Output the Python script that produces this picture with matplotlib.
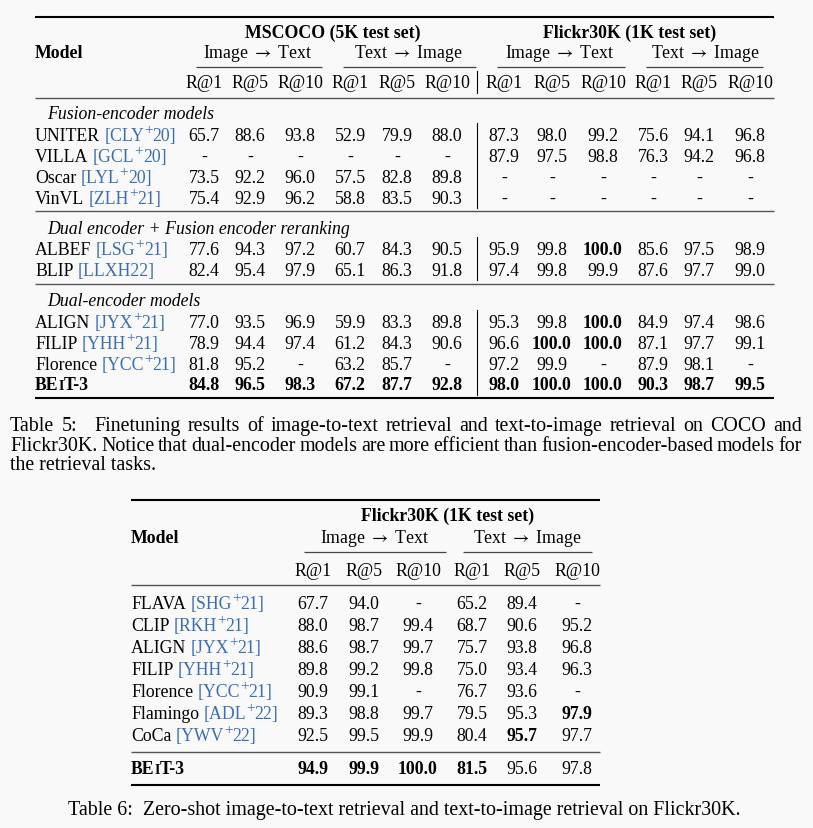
import re
import numpy as np
import matplotlib
matplotlib.use('Agg')
import matplotlib.pyplot as plt

plt.rcParams['font.family'] = ['Liberation Serif', 'DejaVu Serif']
plt.rcParams['mathtext.fontset'] = 'stix'

nan = np.nan

# Table 5: finetuning retrieval
t5_groups = ["Fusion-encoder models", "Dual encoder + Fusion encoder reranking", "Dual-encoder models"]
t5_group_sizes = [4, 2, 4]
t5_models = ["UNITER", "VILLA", "Oscar", "VinVL", "ALBEF", "BLIP", "ALIGN", "FILIP", "Florence", "BEiT-3"]
t5_cites = ["CLY+20", "GCL+20", "LYL+20", "ZLH+21", "LSG+21", "LLXH22", "JYX+21", "YHH+21", "YCC+21", None]
t5_coco = [[65.7, 88.6, 93.8, 52.9, 79.9, 88.0],
           [nan, nan, nan, nan, nan, nan],
           [73.5, 92.2, 96.0, 57.5, 82.8, 89.8],
           [75.4, 92.9, 96.2, 58.8, 83.5, 90.3],
           [77.6, 94.3, 97.2, 60.7, 84.3, 90.5],
           [82.4, 95.4, 97.9, 65.1, 86.3, 91.8],
           [77.0, 93.5, 96.9, 59.9, 83.3, 89.8],
           [78.9, 94.4, 97.4, 61.2, 84.3, 90.6],
           [81.8, 95.2, nan, 63.2, 85.7, nan],
           [84.8, 96.5, 98.3, 67.2, 87.7, 92.8]]
t5_flickr = [[87.3, 98.0, 99.2, 75.6, 94.1, 96.8],
             [87.9, 97.5, 98.8, 76.3, 94.2, 96.8],
             [nan, nan, nan, nan, nan, nan],
             [nan, nan, nan, nan, nan, nan],
             [95.9, 99.8, 100.0, 85.6, 97.5, 98.9],
             [97.4, 99.8, 99.9, 87.6, 97.7, 99.0],
             [95.3, 99.8, 100.0, 84.9, 97.4, 98.6],
             [96.6, 100.0, 100.0, 87.1, 97.7, 99.1],
             [97.2, 99.9, nan, 87.9, 98.1, nan],
             [98.0, 100.0, 100.0, 90.3, 98.7, 99.5]]
t5_bold = [(4, 8), (6, 8), (7, 7), (7, 8)] + [(9, c) for c in range(12)]

# Table 6: zero-shot Flickr30K
t6_models = ["FLAVA", "CLIP", "ALIGN", "FILIP", "Florence", "Flamingo", "CoCa", "BEiT-3"]
t6_cites = ["SHG+21", "RKH+21", "JYX+21", "YHH+21", "YCC+21", "ADL+22", "YWV+22", None]
t6_vals = [[67.7, 94.0, nan, 65.2, 89.4, nan],
           [88.0, 98.7, 99.4, 68.7, 90.6, 95.2],
           [88.6, 98.7, 99.7, 75.7, 93.8, 96.8],
           [89.8, 99.2, 99.8, 75.0, 93.4, 96.3],
           [90.9, 99.1, nan, 76.7, 93.6, nan],
           [89.3, 98.8, 99.7, 79.5, 95.3, 97.9],
           [92.5, 99.5, 99.9, 80.4, 95.7, 97.7],
           [94.9, 99.9, 100.0, 81.5, 95.6, 97.8]]
t6_bold = [(5, 5), (6, 4), (7, 0), (7, 1), (7, 2), (7, 3)]

metrics = ["R@1", "R@5", "R@10"]
caption5 = ["Table 5:   Finetuning results of image-to-text retrieval and text-to-image retrieval on COCO and",
            "Flickr30K. Notice that dual-encoder models are more efficient than fusion-encoder-based models for",
            "the retrieval tasks."]
caption6 = "Table 6:  Zero-shot image-to-text retrieval and text-to-image retrieval on Flickr30K."

FS = 12.8
CAP_FS = 14.4
BLUE = '#3b6db3'
I2T = "Image $\\rightarrow$ Text"
T2I = "Text $\\rightarrow$ Image"

fig = plt.figure(figsize=(8.13, 8.29), dpi=100)
fig.patch.set_facecolor('#f9f9f9')
ax = fig.add_axes([0, 0, 1, 1])
ax.set_xlim(0, 813)
ax.set_ylim(829, 0)
ax.axis('off')
renderer = fig.canvas.get_renderer()


def put(x, y, parts, size=FS):
    # parts: (text, color, weight, scale, rise); draws pieces one after another on a baseline
    for s, color, weight, scale, rise in parts:
        if s == ' ':
            x += 0.25 * size * 100 / 72
            continue
        t = ax.text(x, y - rise, s, fontsize=size * scale, color=color, weight=weight,
                    ha='left', va='baseline')
        x += t.get_window_extent(renderer).width
    return x


def model_label(x, y, name, cite, size=FS):
    if cite is None:
        put(x, y, [("BE", 'black', 'bold', 1, 0), ("I", 'black', 'bold', 0.78, 0),
                   ("T-3", 'black', 'bold', 1, 0)], size)
        return
    parts = [(name, 'black', 'normal', 1, 0), (' ', None, None, 1, 0)]
    if '+' in cite:
        a, b = cite.split('+')
        parts += [("[" + a, BLUE, 'normal', 1, 0), ("+", BLUE, 'normal', 0.85, 6.5),
                  (b + "]", BLUE, 'normal', 1, 0)]
    else:
        parts += [("[" + cite + "]", BLUE, 'normal', 1, 0)]
    put(x, y, parts, size)


def justify(x0, x1, y, line, size):
    toks = [t for t in re.split(r'( +)', line) if t]
    sp = 0.25 * size * 100 / 72
    arts, nat, runs = [], 0.0, 0
    for t in toks:
        if t.startswith(' '):
            nat += sp * len(t)
            runs += 1
            arts.append(len(t))
        else:
            a = ax.text(0, y, t, fontsize=size, ha='left', va='baseline')
            w = a.get_window_extent(renderer).width
            nat += w
            arts.append((a, w))
    extra = (x1 - x0 - nat) / max(runs, 1)
    x = x0
    for a in arts:
        if isinstance(a, int):
            x += sp * a + extra
        else:
            a[0].set_x(x)
            x += a[1]


def rule(x0, x1, y, lw=0.9, color='#333333'):
    ax.plot([x0, x1], [y, y], color=color, lw=lw, solid_capstyle='butt')


def cell(x, y, v, bold):
    s = '-' if np.isnan(v) else '%.1f' % v
    ax.text(x, y, s, fontsize=FS, ha='center', va='baseline', weight='bold' if bold else 'normal')


# ---------------- Table 5 ----------------
L5, R5 = 35, 774
cols5 = [204, 250, 300, 350, 397, 447, 504, 552, 603, 653, 699, 750]
vbar = 477
rule(L5, R5, 17.5, lw=1.5, color='black')
ax.text(333, 38, "MSCOCO (5K test set)", fontsize=FS, weight='bold', ha='center', va='baseline')
ax.text(630, 38, "Flickr30K (1K test set)", fontsize=FS, weight='bold', ha='center', va='baseline')
ax.text(L5, 58, "Model", fontsize=FS, weight='bold', ha='left', va='baseline')
for cx, lab in [(258, I2T), (408, T2I), (560, I2T), (705, T2I)]:
    ax.text(cx, 58, lab, fontsize=FS, ha='center', va='baseline')
for x0, x1 in [(196, 322), (343, 476), (497, 625), (646, 763)]:
    rule(x0, x1, 68, lw=0.9, color='#444444')
for i, cx in enumerate(cols5):
    ax.text(cx, 88, metrics[i % 3], fontsize=FS, ha='center', va='baseline')
ax.plot([vbar, vbar], [72, 94], color='black', lw=0.8)
rule(L5, R5, 98.5, lw=1.0, color='#555555')

y = 113
r = 0
for g, (gname, n) in enumerate(zip(t5_groups, t5_group_sizes)):
    ax.text(L5 + 12, y + 6, gname, fontsize=FS, style='italic', ha='left', va='baseline')
    y += 21.5
    top = y - 11
    for k in range(n):
        model_label(L5, y + 6, t5_models[r], t5_cites[r])
        vals = list(t5_coco[r]) + list(t5_flickr[r])
        for c, v in enumerate(vals):
            cell(cols5[c], y + 6, v, (r, c) in t5_bold)
        r += 1
        y += 21
    ax.plot([vbar, vbar], [top, y - 10], color='black', lw=0.8)
    if g < len(t5_groups) - 1:
        rule(L5, R5, y - 6.5, lw=1.0, color='#555555')
        y += 9
rule(L5, R5, 399, lw=1.5, color='black')

# caption 5 (justified like the paper)
justify(10, 802, 431, caption5[0], CAP_FS)
justify(10, 802, 451, caption5[1], CAP_FS)
ax.text(10, 470, caption5[2], fontsize=CAP_FS, ha='left', va='baseline')

# ---------------- Table 6 ----------------
L6, R6 = 131, 600
cols6 = [313, 364, 418, 472, 522, 577]
rule(L6, R6, 500.5, lw=1.5, color='black')
ax.text(448, 521, "Flickr30K (1K test set)", fontsize=FS, weight='bold', ha='center', va='baseline')
ax.text(L6, 543, "Model", fontsize=FS, weight='bold', ha='left', va='baseline')
ax.text(375, 543, I2T, fontsize=FS, ha='center', va='baseline')
ax.text(527, 543, T2I, fontsize=FS, ha='center', va='baseline')
rule(304, 446, 553, lw=0.9, color='#444444')
rule(463, 592, 553, lw=0.9, color='#444444')
for i, cx in enumerate(cols6):
    ax.text(cx, 576, metrics[i % 3], fontsize=FS, ha='center', va='baseline')
rule(L6, R6, 586, lw=1.0, color='#555555')
y = 603
for r, (m, c6) in enumerate(zip(t6_models, t6_cites)):
    if c6 is None:
        rule(L6, R6, 753, lw=1.0, color='#555555')
        y = 768
    model_label(L6, y + 6, m, c6)
    for c, v in enumerate(t6_vals[r]):
        cell(cols6[c], y + 6, v, (r, c) in t6_bold)
    y += 22
rule(L6, R6, 786, lw=1.5, color='black')

ax.text(68, 815, caption6, fontsize=CAP_FS, ha='left', va='baseline')

fig.savefig('out.png', dpi=100, facecolor=fig.get_facecolor())
